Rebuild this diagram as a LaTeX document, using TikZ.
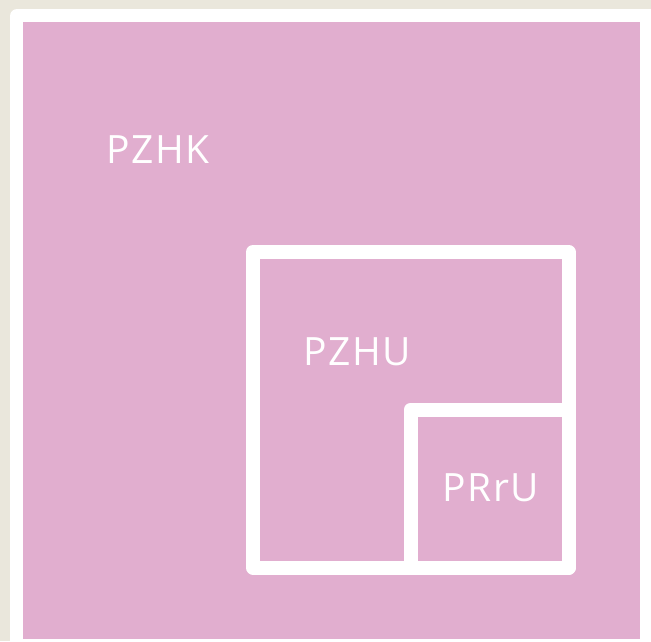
\documentclass[tikz,border=0pt]{standalone}
\usepackage{fontspec}
\setmainfont{Open Sans}[LetterSpace=4]
\definecolor{paper}{HTML}{EAE7DC}
\definecolor{zonepink}{HTML}{E1AECF}
\tikzset{
  zoneline/.style={draw=white,line width=14pt,line join=round},
  zonelabel/.style={text=white,font=\fontsize{39}{47}\selectfont,inner sep=0pt}
}
\begin{document}
\begin{tikzpicture}[x=1pt,y=-1pt]
  \useasboundingbox (0,0) rectangle (651,641);
  \fill[paper](0,0) rectangle (651,641);
  % white card and pink area
  \fill[white,rounded corners=7pt](10,9) rectangle (670,660);
  \fill[zonepink](23,22) rectangle (640,639);
  % nested zones
  \coordinate (pzhu-nw) at (253,252);
  \coordinate (pzhu-se) at (568.5,567.5);
  \coordinate (prru-nw) at (410.5,409.5);
  \draw[zoneline](pzhu-nw) rectangle (pzhu-se);
  \draw[zoneline](prru-nw) rectangle (pzhu-se);
  % labels
  \node[zonelabel] (pzhk) at (158,149.5){PZHK};
  \node[zonelabel] (pzhu) at (357.5,351.5){PZHU};
  \node[zonelabel] (prru) at (491,488){PRrU};
\end{tikzpicture}
\end{document}
